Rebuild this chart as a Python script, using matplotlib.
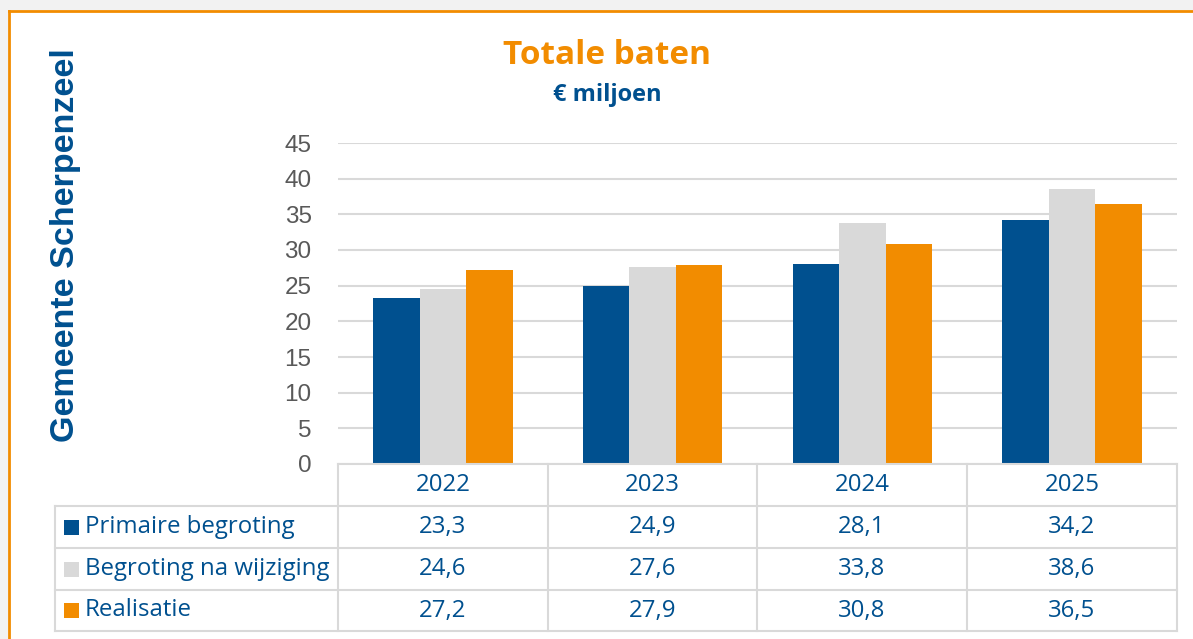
import matplotlib
matplotlib.use('Agg')
import matplotlib.pyplot as plt
from matplotlib.patches import Rectangle
from matplotlib.lines import Line2D

years = ['2022', '2023', '2024', '2025']
series_names = ['Primaire begroting', 'Begroting na wijziging', 'Realisatie']
primaire = [23.3, 24.9, 28.1, 34.2]
na_wijziging = [24.6, 27.6, 33.8, 38.6]
realisatie = [27.2, 27.9, 30.8, 36.5]
y_ticks = [0, 5, 10, 15, 20, 25, 30, 35, 40, 45]

BLUE = '#00508f'
GREY = '#d9d9d9'
ORANGE = '#f28c00'
TICK = '#595959'
LINE = '#d9d9d9'

W, H = 1193, 639
fig = plt.figure(figsize=(W / 100, H / 100), dpi=100)
fig.patch.set_facecolor('white')


def fx(px):
    return px / W


def fy(py):
    return 1 - py / H


# outer grey margin and orange frame
fig.patches.append(Rectangle((0, fy(11)), 1, 11 / H, transform=fig.transFigure,
                             facecolor='#f2f2f2', edgecolor='none', zorder=0))
fig.patches.append(Rectangle((0, 0), fx(9), 1, transform=fig.transFigure,
                             facecolor='#f2f2f2', edgecolor='none', zorder=0))
fig.lines.append(Line2D([fx(9), 1], [fy(11), fy(11)], transform=fig.transFigure,
                        color=ORANGE, lw=2))
fig.lines.append(Line2D([fx(9), fx(9)], [0, fy(11)], transform=fig.transFigure,
                        color=ORANGE, lw=2))

# plot area
x0, x1 = 338, 1177
ytop, ybot = 143, 464
ax = fig.add_axes([fx(x0), fy(ybot), fx(x1) - fx(x0), (ybot - ytop) / H])
ax.set_xlim(-0.5, 3.5)
ax.set_ylim(0, 45)
ax.set_yticks(y_ticks)
ax.set_yticklabels([str(t) for t in y_ticks], fontsize=17.5, color=TICK,
                   family='Liberation Sans')
ax.tick_params(axis='y', length=0, pad=19)
ax.set_xticks([])
for s in ax.spines.values():
    s.set_visible(False)
ax.grid(axis='y', color=LINE, lw=1.5)
ax.set_axisbelow(True)

bw = 0.222
xs = range(len(years))
for k, (vals, col) in enumerate(zip([primaire, na_wijziging, realisatie],
                                    [BLUE, GREY, ORANGE])):
    ax.bar([x + (k - 1) * bw for x in xs], vals, width=bw, color=col, zorder=3)

# titles
fig.text(fx(607), fy(55), 'Totale baten', ha='center', va='center',
         fontsize=24, fontweight='bold', color=ORANGE, family='Open Sans')
fig.text(fx(607), fy(95), '€ miljoen', ha='center', va='center',
         fontsize=17, fontweight='bold', color=BLUE, family='Open Sans')
fig.text(fx(66), fy(245), 'Gemeente Scherpenzeel', ha='center', va='center',
         rotation=90, fontsize=24.5, fontweight='bold', color=BLUE,
         family='Liberation Sans')

# data table
cols = [338, 548, 757, 967, 1177]
rows = [464, 506, 548, 590, 631]
left = 55
tkw = dict(transform=fig.transFigure, color=LINE, lw=1.5)
fig.lines.append(Line2D([fx(x0), fx(x1)], [fy(rows[0])] * 2, **tkw))
for r in rows[1:]:
    fig.lines.append(Line2D([fx(left), fx(x1)], [fy(r)] * 2, **tkw))
for c in cols:
    fig.lines.append(Line2D([fx(c)] * 2, [fy(rows[0]), fy(rows[-1])], **tkw))
fig.lines.append(Line2D([fx(left)] * 2, [fy(rows[1]), fy(rows[-1])], **tkw))

tfont = dict(fontsize=17.3, color=BLUE, family='Open Sans', va='center')
for i, yr in enumerate(years):
    fig.text(fx((cols[i] + cols[i + 1]) / 2), fy((rows[0] + rows[1]) / 2), yr,
             ha='center', **tfont)
for j, (name, vals, col) in enumerate(zip(series_names,
                                          [primaire, na_wijziging, realisatie],
                                          [BLUE, GREY, ORANGE])):
    yc = (rows[j + 1] + rows[j + 2]) / 2
    fig.patches.append(Rectangle((fx(64), fy(yc + 7.5)), 15 / W, 15 / H,
                                 transform=fig.transFigure, facecolor=col,
                                 edgecolor='none'))
    fig.text(fx(85), fy(yc), name, ha='left', **tfont)
    for i, v in enumerate(vals):
        fig.text(fx((cols[i] + cols[i + 1]) / 2), fy(yc),
                 f'{v:.1f}'.replace('.', ','), ha='center', **tfont)

fig.savefig('out.png', dpi=100)
